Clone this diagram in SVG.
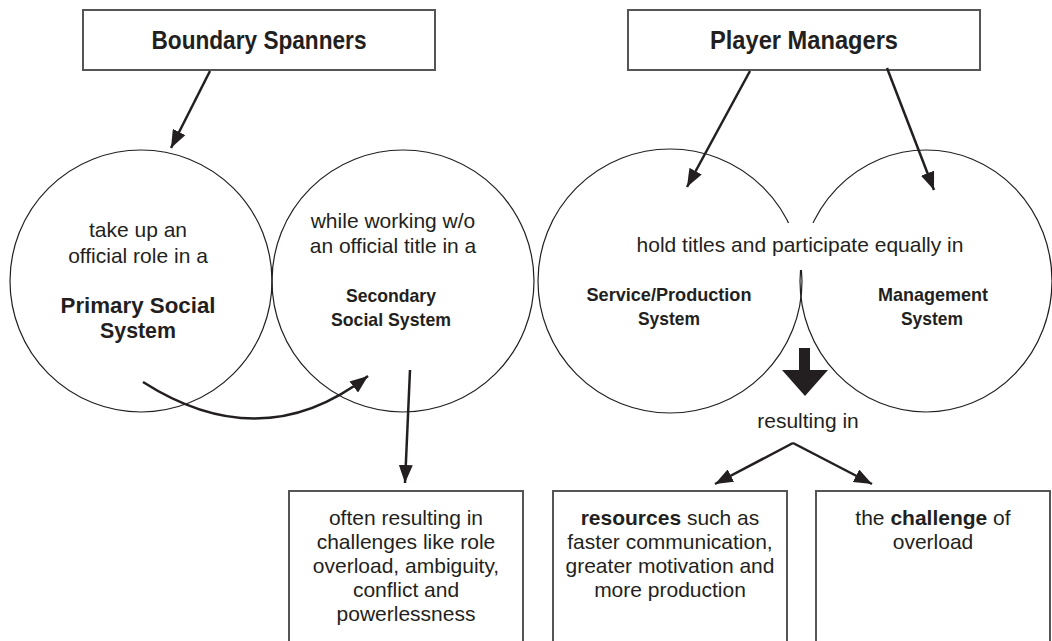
<svg xmlns="http://www.w3.org/2000/svg" width="1052" height="641" viewBox="0 0 1052 641">
<defs>
<style>
.box{fill:#fff;stroke:#555;stroke-width:2}
.circ{fill:none;stroke:#231f20;stroke-width:1.2}
.t{font-family:"Liberation Sans",Arial,sans-serif;font-size:21px;fill:#231f20;text-anchor:middle}
.b{font-family:"Liberation Sans",Arial,sans-serif;font-weight:bold;fill:#231f20;text-anchor:middle}
.big{font-size:25px}
.mid{font-size:22.5px}
.sm{font-size:19px}
.con{fill:none;stroke:#231f20;stroke-width:2.5}
</style>
<marker id="ah" markerUnits="userSpaceOnUse" markerWidth="20" markerHeight="14" refX="18" refY="7" orient="auto">
<path d="M0,0 L18,7 L0,14 Z" fill="#231f20"/>
</marker>
</defs>
<rect width="1052" height="641" fill="#fff"/>

<g id="boundary-spanners">
<rect class="box" x="83" y="10" width="352" height="60"/>
<text class="b big" x="259" y="49" textLength="215" lengthAdjust="spacingAndGlyphs">Boundary Spanners</text>
</g>
<g id="player-managers">
<rect class="box" x="628" y="10" width="352" height="60"/>
<text class="b big" x="804" y="49" textLength="188" lengthAdjust="spacingAndGlyphs">Player Managers</text>
</g>

<g id="primary-social-system">
<circle class="circ" cx="141" cy="281" r="131"/>
<text class="t" x="138" y="237">take up an</text>
<text class="t" x="138" y="263">official role in a</text>
<text class="b mid" x="138" y="313" textLength="155" lengthAdjust="spacingAndGlyphs">Primary Social</text>
<text class="b mid" x="138" y="338" textLength="76" lengthAdjust="spacingAndGlyphs">System</text>
</g>
<g id="secondary-social-system">
<circle class="circ" cx="403" cy="281" r="131"/>
<text class="t" x="393" y="228">while working w/o</text>
<text class="t" x="393" y="253">an official title in a</text>
<text class="b sm" x="391" y="302" textLength="90" lengthAdjust="spacingAndGlyphs">Secondary</text>
<text class="b sm" x="391" y="326" textLength="120" lengthAdjust="spacingAndGlyphs">Social System</text>
</g>
<g id="service-production-system">
<circle class="circ" cx="670" cy="281" r="132"/>
<text class="b sm" x="669" y="301" textLength="165" lengthAdjust="spacingAndGlyphs">Service/Production</text>
<text class="b sm" x="669" y="325" textLength="62" lengthAdjust="spacingAndGlyphs">System</text>
</g>
<g id="management-system">
<ellipse class="circ" cx="926" cy="281" rx="126" ry="131"/>
<text class="b sm" x="933" y="301" textLength="110" lengthAdjust="spacingAndGlyphs">Management</text>
<text class="b sm" x="932" y="325" textLength="62" lengthAdjust="spacingAndGlyphs">System</text>
</g>
<g id="hold-titles">
<rect x="781" y="223" width="43" height="47" fill="#fff"/>
<text class="t" x="800" y="252">hold titles and participate equally in</text>
</g>
<g id="resulting-in">
<text class="t" x="808" y="428">resulting in</text>
</g>

<g id="box-challenges">
<rect class="box" x="289" y="491" width="234" height="170"/>
<text class="t" x="406" y="525">often resulting in</text>
<text class="t" x="406" y="549">challenges like role</text>
<text class="t" x="406" y="573">overload, ambiguity,</text>
<text class="t" x="406" y="597">conflict and</text>
<text class="t" x="406" y="621">powerlessness</text>
</g>
<g id="box-resources">
<rect class="box" x="553" y="491" width="234" height="170"/>
<text class="t" x="670" y="525"><tspan font-weight="bold">resources</tspan> such as</text>
<text class="t" x="670" y="549">faster communication,</text>
<text class="t" x="670" y="573">greater motivation and</text>
<text class="t" x="670" y="597">more production</text>
</g>
<g id="box-overload">
<rect class="box" x="816" y="491" width="234" height="170"/>
<text class="t" x="933" y="525">the <tspan font-weight="bold">challenge</tspan> of</text>
<text class="t" x="933" y="549">overload</text>
</g>

<g id="connectors">
<path class="con" d="M210,71 L171,148" marker-end="url(#ah)"/>
<path class="con" d="M750,71 L687,187" marker-end="url(#ah)"/>
<path class="con" d="M887,68 L934,190" marker-end="url(#ah)"/>
<path class="con" d="M143,382 Q262,458 368,376" marker-end="url(#ah)"/>
<path class="con" d="M410,370 L405,483" marker-end="url(#ah)"/>
<path class="con" d="M793,443 L715,484" marker-end="url(#ah)"/>
<path class="con" d="M793,443 L872,484" marker-end="url(#ah)"/>
<polygon points="799,348 810,348 810,370 828,370 805,396 782,370 799,370" fill="#231f20"/>
</g>
</svg>
